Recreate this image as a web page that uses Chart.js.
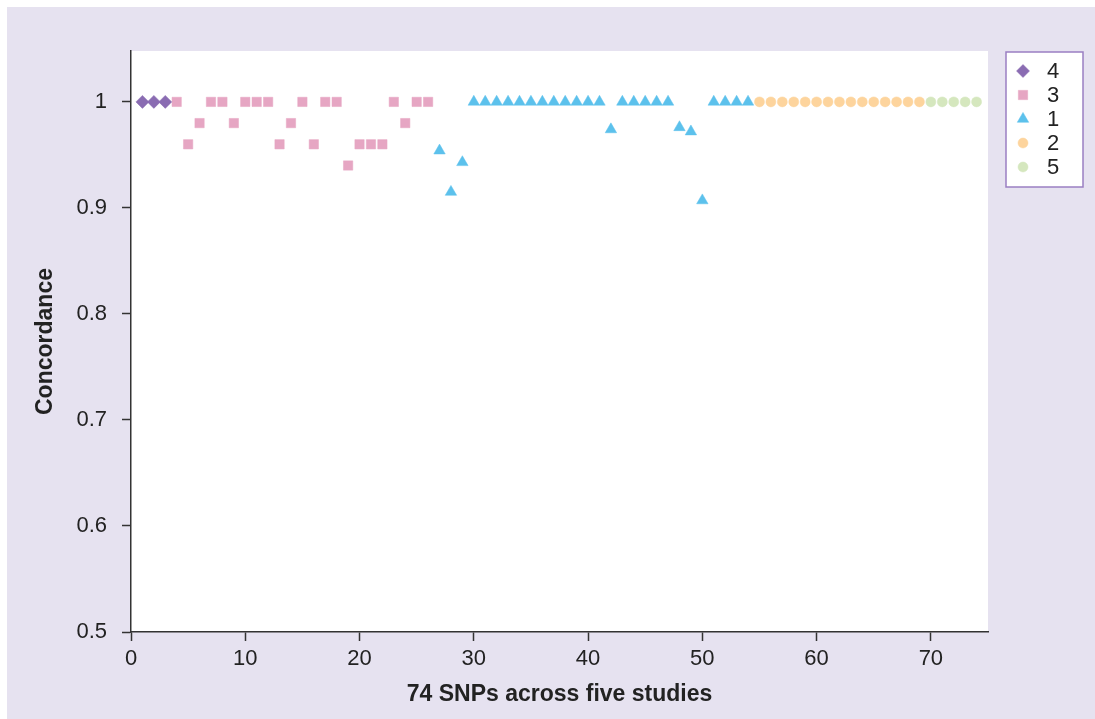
<!DOCTYPE html>
<html>
<head>
<meta charset="utf-8">
<title>Concordance</title>
<script src="https://cdn.jsdelivr.net/npm/chart.js@4/dist/chart.umd.min.js"></script>
<style>
  html, body { margin: 0; padding: 0; background: #ffffff; }
  #frame {
    position: absolute;
    left: 7px;
    top: 7px;
    width: 1088px;
    height: 712px;
    background: #e6e2f0;
  }
  canvas { display: block; }
</style>
</head>
<body>
<div id="frame">
  <canvas id="chart" width="1088" height="712"></canvas>
</div>
<script>
'use strict'

// ************* Data ****************
// studies in the order they appear along the x axis (and in the legend)
let studyNames = ['4', '3', '1', '2', '5'];

let study4 = [1, 1, 1];
let study3 = [1, 0.96, 0.98, 1, 1, 0.98, 1, 1, 1, 0.96, 0.98, 1, 0.96, 1, 1, 0.94, 0.96, 0.96, 0.96, 1, 0.98, 1, 1];
let study1 = [0.954, 0.915, 0.943, 1, 1, 1, 1, 1, 1, 1, 1, 1, 1, 1, 1, 0.974, 1, 1, 1, 1, 1, 0.976, 0.972, 0.907, 1, 1, 1, 1];
let study2 = [1, 1, 1, 1, 1, 1, 1, 1, 1, 1, 1, 1, 1, 1, 1];
let study5 = [1, 1, 1, 1, 1];

let xTicks = [0, 10, 20, 30, 40, 50, 60, 70];
let yTicks = [0.5, 0.6, 0.7, 0.8, 0.9, 1];

// ************ Styles **************
let colors = ['#8a6cb2', '#e6a6c3', '#5cc1ec', '#fdd49d', '#d5e7be'];
let shapes = ['rectRot', 'rect', 'triangle', 'circle', 'circle'];
let sizes = [6.5, 6.6, 6.6, 5, 5];
let axisColor = '#333333';
let textColor = '#222222';

// ************ Helper Functions **********
function makeDatasets() {
  let allValues = [study4, study3, study1, study2, study5];
  let sets = [];
  let snp = 1;
  for (let i = 0; i < allValues.length; i++) {
    let points = [];
    for (let j = 0; j < allValues[i].length; j++) {
      points.push({ x: snp, y: allValues[i][j] });
      snp++;
    }
    sets.push({
      label: studyNames[i],
      data: points,
      pointStyle: shapes[i],
      pointRadius: sizes[i],
      pointHoverRadius: sizes[i],
      backgroundColor: colors[i],
      borderColor: colors[i],
      borderWidth: 0.5,
      showLine: false
    });
  }
  return sets;
}

function tickLabel(v) {
  return String(Number(v.toFixed(1)));
}

// white plot area behind the points
let plotBackground = {
  id: 'plotBackground',
  beforeDraw(chart) {
    let ctx = chart.ctx;
    let a = chart.chartArea;
    ctx.save();
    ctx.fillStyle = '#ffffff';
    ctx.fillRect(a.left, a.top, a.right - a.left, a.bottom - a.top);
    ctx.restore();
  }
};

// boxed legend at the top right
let boxLegend = {
  id: 'boxLegend',
  afterDraw(chart) {
    let ctx = chart.ctx;
    let left = 999, top = 45, w = 77, h = 135;
    ctx.save();
    ctx.fillStyle = '#ffffff';
    ctx.fillRect(left, top, w, h);
    ctx.strokeStyle = '#9a7fc2';
    ctx.lineWidth = 1.5;
    ctx.strokeRect(left, top, w, h);
    ctx.font = '22px "Liberation Sans", Arial, sans-serif';
    ctx.textBaseline = 'middle';
    ctx.textAlign = 'left';
    let sets = chart.data.datasets;
    for (let i = 0; i < sets.length; i++) {
      let y = top + 19 + i * 24;
      ctx.fillStyle = sets[i].backgroundColor;
      ctx.strokeStyle = sets[i].borderColor;
      ctx.lineWidth = 0.5;
      Chart.helpers.drawPoint(ctx, { pointStyle: sets[i].pointStyle, radius: sets[i].pointRadius, rotation: 0, borderWidth: 0.5 }, 1016, y);
      ctx.fillStyle = textColor;
      ctx.fillText(sets[i].label, 1040, y + 1);
    }
    ctx.restore();
  }
};

// ************* Chart ****************
let chart = document.getElementById('chart');

let myChart = new Chart(chart, {
  type: 'scatter',
  data: {
    datasets: makeDatasets()
  },
  options: {
    responsive: false,
    animation: false,
    layout: {
      padding: { top: 44, right: 107, left: 0, bottom: 0 }
    },
    plugins: {
      legend: { display: false },
      tooltip: { enabled: false }
    },
    scales: {
      x: {
        type: 'linear',
        min: 0,
        max: 75,
        afterBuildTicks: function (scale) {
          scale.ticks = xTicks.map(v => ({ value: v }));
        },
        afterFit: function (scale) {
          scale.height = 87;
        },
        border: { display: true, color: axisColor, width: 1.5 },
        grid: { drawOnChartArea: false, drawTicks: true, tickLength: 9, tickColor: axisColor, tickWidth: 1.5 },
        ticks: {
          color: textColor,
          padding: 5,
          maxRotation: 0,
          font: { family: '"Liberation Sans", Arial, sans-serif', size: 22 },
          callback: function (v) { return tickLabel(v); }
        },
        title: {
          display: true,
          text: '74 SNPs across five studies',
          color: textColor,
          font: { family: '"Liberation Sans", Arial, sans-serif', size: 23, weight: 'bold', lineHeight: 1.2 },
          padding: { top: 0, bottom: 11 }
        }
      },
      y: {
        type: 'linear',
        min: 0.5,
        max: 1.048,
        afterBuildTicks: function (scale) {
          scale.ticks = yTicks.map(v => ({ value: v }));
        },
        afterFit: function (scale) {
          scale.width = 124;
        },
        border: { display: true, color: axisColor, width: 1.5 },
        grid: { drawOnChartArea: false, drawTicks: true, tickLength: 9, tickColor: axisColor, tickWidth: 1.5 },
        ticks: {
          color: textColor,
          padding: 15,
          font: { family: '"Liberation Sans", Arial, sans-serif', size: 22 },
          callback: function (v) { return tickLabel(v); }
        },
        title: {
          display: true,
          text: 'Concordance',
          color: textColor,
          font: { family: '"Liberation Sans", Arial, sans-serif', size: 23, weight: 'bold', lineHeight: 1.2 },
          padding: { top: 25, bottom: 0 }
        }
      }
    }
  },
  plugins: [plotBackground, boxLegend]
});
</script>
</body>
</html>
